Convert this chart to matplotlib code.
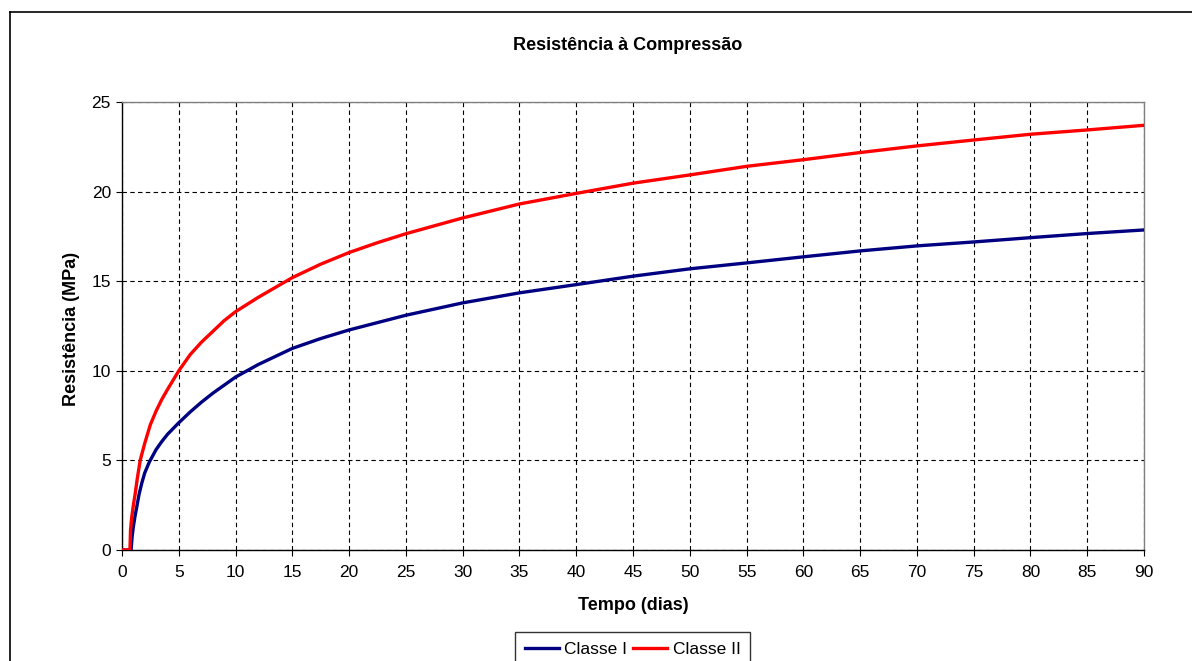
import matplotlib
matplotlib.use("Agg")
import matplotlib.pyplot as plt
from matplotlib.lines import Line2D

plt.rcParams['font.family'] = ['Liberation Sans', 'DejaVu Sans']

title = "Resistência à Compressão"
xlabel = "Tempo (dias)"
ylabel = "Resistência (MPa)"
series_names = ["Classe I", "Classe II"]

days_c1 = [0, 0.8, 0.9, 1.0, 1.15, 1.3, 1.5, 1.75, 2, 2.4, 3, 3.5, 4, 5, 6, 7, 8, 9, 10,
           12, 15, 17.5, 20, 25, 30, 35, 40, 45, 50, 55, 60, 65, 70, 75, 80, 85, 90]
vals_c1 = [0, 0, 0.8, 1.3, 1.9, 2.4, 3.1, 3.75, 4.3, 4.9, 5.6, 6.05, 6.45, 7.1, 7.7, 8.25,
           8.75, 9.2, 9.65, 10.35, 11.25, 11.8, 12.28, 13.1, 13.79, 14.35, 14.81, 15.28,
           15.69, 16.02, 16.36, 16.69, 16.97, 17.19, 17.43, 17.66, 17.86]

days_c2 = [0, 0.7, 0.75, 0.85, 1.0, 1.15, 1.35, 1.6, 2, 2.5, 3, 3.5, 4, 5, 6, 7, 8, 9, 10,
           12, 15, 17.5, 20, 22.5, 25, 30, 35, 40, 45, 50, 55, 60, 65, 70, 75, 80, 85, 90]
vals_c2 = [0, 0, 1.1, 1.8, 2.5, 3.1, 4.0, 5.0, 5.95, 7.0, 7.75, 8.4, 8.95, 10.0, 10.9, 11.6,
           12.2, 12.8, 13.3, 14.1, 15.2, 15.95, 16.6, 17.15, 17.65, 18.53, 19.31, 19.9,
           20.47, 20.93, 21.41, 21.78, 22.18, 22.55, 22.88, 23.2, 23.44, 23.7]

xticks = list(range(0, 91, 5))
yticks = list(range(0, 26, 5))

W, H = 1192, 661
fig = plt.figure(figsize=(W / 100, H / 100), dpi=100)
ax = fig.add_axes([122 / W, 1 - 550 / H, (1144 - 122) / W, (550 - 102) / H])

ax.plot(days_c1, vals_c1, color="#000080", lw=2.4, label=series_names[0], zorder=3)
ax.plot(days_c2, vals_c2, color="#FF0000", lw=2.4, label=series_names[1], zorder=3)

ax.set_xlim(0, 90)
ax.set_ylim(0, 25)
ax.set_xticks(xticks)
ax.set_yticks(yticks)
ax.grid(True, color="black", lw=0.8, linestyle=(0, (4, 3)))
ax.set_axisbelow(True)
ax.tick_params(axis='both', direction='out', length=4, width=0.8, labelsize=12.5, colors='black')
ax.tick_params(axis='x', pad=7)
ax.tick_params(axis='y', pad=4)
for s in ['top', 'right']:
    ax.spines[s].set_color('#808080')
    ax.spines[s].set_linewidth(1.0)
for s in ['left', 'bottom']:
    ax.spines[s].set_color('black')
    ax.spines[s].set_linewidth(1.0)

fig.text(627.5 / W, 1 - 45 / H, title, ha='center', va='center', fontsize=13, fontweight='bold')
fig.text(633 / W, 1 - 606 / H, xlabel, ha='center', va='center', fontsize=13, fontweight='bold')
fig.text(72 / W, 1 - 329 / H, ylabel, ha='center', va='center', rotation=90, fontsize=13,
         fontweight='bold')

leg = fig.legend(loc='upper center', bbox_to_anchor=(632.5 / W, 1 - 632 / H), ncol=2,
                 fontsize=12.5, frameon=True, fancybox=False, edgecolor='black',
                 handlelength=2.0, handletextpad=0.3, columnspacing=0.3,
                 borderpad=0.55, borderaxespad=0)
leg.get_frame().set_linewidth(1.0)

fig.add_artist(Line2D([10 / W, 10 / W], [0, 1 - 12 / H], color='black', lw=1.2,
                      transform=fig.transFigure))
fig.add_artist(Line2D([10 / W, 1], [1 - 12 / H, 1 - 12 / H], color='black', lw=1.2,
                      transform=fig.transFigure))

fig.savefig("out.png", dpi=100)
